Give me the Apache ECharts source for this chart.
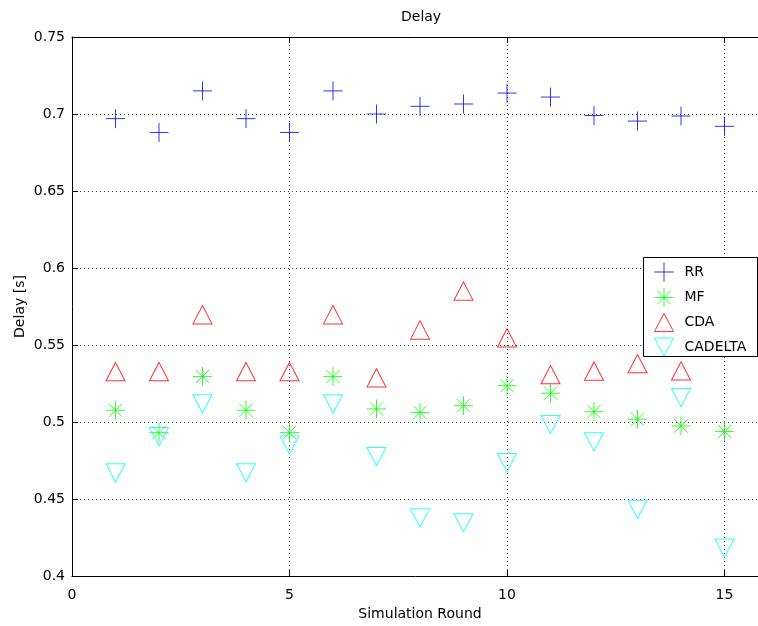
<!DOCTYPE html>
<html>
<head>
<meta charset="utf-8">
<script src="https://cdn.jsdelivr.net/npm/echarts@6/dist/echarts.min.js"></script>
<style>html,body{margin:0;padding:0;background:#fff}#c{width:758px;height:626px}</style>
</head>
<body>
<div id="c"></div>
<script>
var rounds = [1,2,3,4,5,6,7,8,9,10,11,12,13,14,15];
var rr = [0.697, 0.688, 0.715, 0.697, 0.688, 0.715, 0.700, 0.705, 0.7065, 0.7136, 0.711, 0.699, 0.6954, 0.6987, 0.692];
var mf = [0.5076, 0.4931, 0.5295, 0.5076, 0.4931, 0.5295, 0.5085, 0.5062, 0.5106, 0.5236, 0.5187, 0.5067, 0.5018, 0.4974, 0.4938];
var cdaRounds = [1,2,3,4,5,6,7,8,9,10,11,12,13,14];
var cda = [0.5308, 0.5308, 0.5677, 0.5308, 0.5308, 0.5677, 0.5267, 0.5578, 0.5831, 0.5527, 0.5288, 0.5311, 0.5359, 0.5312];
var cadelta = [0.4689, 0.4924, 0.5137, 0.4689, 0.4870, 0.5137, 0.4795, 0.4397, 0.4365, 0.4755, 0.5003, 0.4891, 0.4452, 0.5178, 0.4201];
var seriesNames = ['RR','MF','CDA','CADELTA'];

var FONT = 'DejaVu Sans';
var PLUS = 'path://M10,0L10,20M0,10L20,10';
var STAR = 'path://M10,0L10,20M0,10L20,10M3,3L17,17M3,17L17,3';
var TRI = 'path://M10,0L20,19L0,19Z';
var ITRI = 'path://M0,0L20,0L10,19Z';

function pairs(xs, ys){ return ys.map(function(v,i){ return [xs[i], v]; }); }
function st(c){ return {color:'rgba(0,0,0,0)', borderColor:c, borderWidth:1}; }

var chart = echarts.init(document.getElementById('c'), null, {renderer:'canvas'});
var axisFont = {fontFamily: FONT, fontSize: 14, color: '#000'};
chart.setOption({
  animation: false,
  backgroundColor: '#fff',
  title: {text: 'Delay', left: 401, top: 10, padding: 0,
    textStyle: {fontFamily: FONT, fontSize: 14, fontWeight: 'normal', color: '#000'}},
  grid: {left: 72, top: 37, width: 696, bottom: 50, show: false,
    outerBoundsMode: 'none', containLabel: false},
  graphic: [{
    type: 'rect', z: 3,
    shape: {x: 643.5, y: 257.5, width: 114, height: 99},
    style: {fill: '#fff', stroke: '#000', lineWidth: 1}
  }],
  legend: {
    orient: 'vertical', left: 643, top: 257,
    padding: [5, 0, 1, 11], itemGap: 5.5, itemWidth: 19, itemHeight: 19,
    textStyle: {fontFamily: FONT, fontSize: 14, color: '#000', padding: [0,0,0,6]},
    data: [
      {name: seriesNames[0], icon: PLUS, itemStyle: st('#0000ff')},
      {name: seriesNames[1], icon: STAR, itemStyle: st('#00ff00')},
      {name: seriesNames[2], icon: TRI, itemStyle: st('#ff0000')},
      {name: seriesNames[3], icon: ITRI, itemStyle: st('#00ffff')}
    ]
  },
  xAxis: [{
    type: 'value', min: 0, max: 16, interval: 5, position: 'bottom',
    name: 'Simulation Round', nameLocation: 'middle', nameGap: 31,
    nameTextStyle: axisFont,
    axisLine: {show: true, lineStyle: {color: '#000', width: 1}},
    axisTick: {show: true, inside: true, length: 6, lineStyle: {color: '#000'}},
    axisLabel: Object.assign({margin: 12, showMaxLabel: false,
      formatter: function(v){ return v > 15 ? '' : String(v); }}, axisFont),
    splitLine: {show: true, lineStyle: {color: '#444', type: [1,3], width: 1}}
  }, {
    type: 'value', min: 0, max: 16, interval: 5, position: 'top',
    axisLine: {show: true, lineStyle: {color: '#000', width: 1}},
    axisTick: {show: true, inside: true, length: 6, lineStyle: {color: '#000'}},
    axisLabel: {show: false}, splitLine: {show: false}
  }],
  yAxis: {
    type: 'value', min: 0.4, max: 0.75, interval: 0.05,
    name: 'Delay [s]', nameLocation: 'middle', nameGap: 45, nameMoveOverlap: false,
    nameTextStyle: axisFont,
    axisLine: {show: true, lineStyle: {color: '#000', width: 1}},
    axisTick: {show: true, inside: true, length: 6, lineStyle: {color: '#000'}},
    axisLabel: Object.assign({margin: 7, formatter: function(v){ return String(+v.toFixed(2)); }}, axisFont),
    splitLine: {show: true, lineStyle: {color: '#444', type: [1,3], width: 1}}
  },
  series: [
    {name: seriesNames[0], type: 'scatter', symbol: PLUS, symbolSize: [19,19], itemStyle: st('#0000ff'), data: pairs(rounds, rr)},
    {name: seriesNames[1], type: 'scatter', symbol: STAR, symbolSize: [19,19], itemStyle: st('#00ff00'), data: pairs(rounds, mf)},
    {name: seriesNames[2], type: 'scatter', symbol: TRI, symbolSize: [19,18.3], symbolOffset: [0,-3], itemStyle: st('#ff0000'), data: pairs(cdaRounds, cda)},
    {name: seriesNames[3], type: 'scatter', symbol: ITRI, symbolSize: [19,18.3], symbolOffset: [0,3], itemStyle: st('#00ffff'), data: pairs(rounds, cadelta)}
  ]
});
</script>
</body>
</html>
